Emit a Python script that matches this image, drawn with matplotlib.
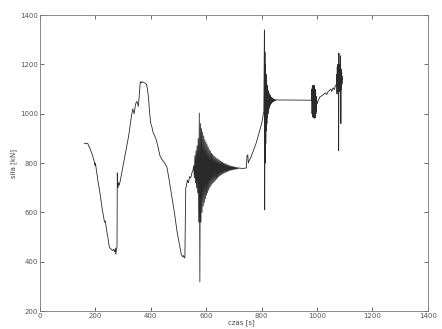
import numpy as np
import matplotlib
matplotlib.use('Agg')
import matplotlib.pyplot as plt

# slow part of the record: (time [s], force [kN])
t_main = [160, 172, 176, 180, 185, 190, 195, 198, 200, 205, 210, 215, 220, 225, 230,
          233, 236, 240, 245, 250, 253, 258, 262, 266, 270, 272, 274, 276, 278, 279,
          281, 283, 286, 290, 295, 300, 305, 310, 315, 320, 325, 330, 335, 340, 345,
          350, 355, 358, 362, 365, 368, 372, 378, 384, 388, 392, 396, 400, 404, 408,
          412, 416, 420, 425, 433, 440, 450, 458, 465, 475, 485, 495, 500, 505, 510,
          515, 518, 521, 523, 526, 528, 532, 536, 540, 544, 548, 552]
f_main = [880, 880, 870, 860, 845, 830, 810, 790, 800, 760, 720, 690, 650, 610, 580,
          560, 565, 530, 500, 460, 455, 450, 445, 450, 440, 455, 430, 450, 460, 760,
          700, 720, 710, 730, 760, 790, 820, 850, 880, 910, 950, 990, 1020, 1000, 1040,
          1050, 1030, 1070, 1130, 1125, 1130, 1128, 1125, 1120, 1100, 1060, 1000, 960, 946, 925,
          915, 905, 893, 870, 830, 815, 800, 784, 740, 670, 600, 520, 490, 460, 430,
          420, 425, 415, 418, 700, 704, 731, 720, 745, 740, 759, 770]

# first damped oscillation, sampled every 2 s from 555 s
t_osc1 = np.arange(555, 721, 2)
f_osc1 = [790, 740, 830, 720, 850, 700, 870, 680, 900, 560, 1003, 318, 960, 560, 940,
          600, 925, 625, 910, 640, 895, 655, 885, 670, 875, 680, 865, 690, 855, 700,
          848, 708, 840, 715, 835, 720, 830, 725, 826, 730, 822, 735, 818, 740, 815,
          744, 812, 748, 808, 751, 805, 754, 803, 757, 800, 760, 798, 762, 796, 764,
          794, 766, 792, 768, 790, 770, 788, 771, 787, 772, 786, 773, 785, 774, 784,
          775, 783, 776, 782, 777, 781, 778, 780]

t_ramp = [730, 745, 747, 750, 752, 755, 760, 770, 780, 790, 800, 805, 808]
f_ramp = [778, 780, 830, 833, 800, 810, 820, 850, 880, 920, 960, 990, 1010]

# second oscillation, every 1 s from 810 s
t_osc2 = np.arange(810, 851, 1)
f_osc2 = [1340, 610, 1250, 800, 1200, 880, 1160, 930, 1130, 960, 1115, 985, 1100, 1000,
          1092, 1012, 1085, 1022, 1080, 1030, 1075, 1035, 1072, 1040, 1068, 1043, 1066,
          1046, 1064, 1048, 1062, 1050, 1060, 1051, 1059, 1052, 1058, 1053, 1057, 1054, 1056]

t_flat = [850, 980]
f_flat = [1056, 1055]

# burst near 990 s, every 1 s
t_osc3 = np.arange(980, 1001, 1)
f_osc3 = [1055, 1100, 1000, 1110, 990, 1115, 985, 1112, 990, 1116, 982, 1110, 995,
          1100, 985, 1090, 1000, 1070, 1010, 1050, 1040]

t_saw = [1000, 1003, 1010, 1020, 1030, 1035, 1040, 1050, 1053, 1058, 1062, 1066, 1070]
f_saw = [1040, 1050, 1068, 1075, 1085, 1078, 1090, 1100, 1090, 1105, 1098, 1112, 1120]

# final burst, every 1 s
t_osc4 = np.arange(1070, 1093, 1)
f_osc4 = [1120, 1160, 1080, 1190, 1100, 1200, 1090, 1150, 850, 1246, 1100, 1190, 1090,
          1200, 1095, 1235, 960, 1180, 1100, 1170, 1120, 1150, 1140]

t = np.concatenate([t_main, t_osc1, t_ramp, t_osc2, t_flat, t_osc3, t_saw, t_osc4])
f = np.concatenate([f_main, f_osc1, f_ramp, f_osc2, f_flat, f_osc3, f_saw, f_osc4])

fig = plt.figure(figsize=(4.42, 3.29), dpi=100)
ax = fig.add_axes([0.0905, 0.0547, 0.8775, 0.8993])
ax.plot(t, f, color='#2a2a2a', lw=0.6)

ax.set_xlim(0, 1400)
ax.set_ylim(200, 1400)
ax.set_xticks(np.arange(0, 1401, 200))
ax.set_yticks(np.arange(200, 1401, 200))
ax.tick_params(direction='in', length=3, width=0.6, colors='#555555',
               labelsize=5, top=True, right=True, pad=1.5)
for s in ax.spines.values():
    s.set_color('#777777')
    s.set_linewidth(0.6)
ax.set_xlabel('czas [s]', fontsize=5, color='#444444')
ax.xaxis.set_label_coords(0.52, -0.028)
ax.set_ylabel('siła [kN]', fontsize=5, color='#444444', labelpad=2)

plt.savefig('out.png', dpi=100)
